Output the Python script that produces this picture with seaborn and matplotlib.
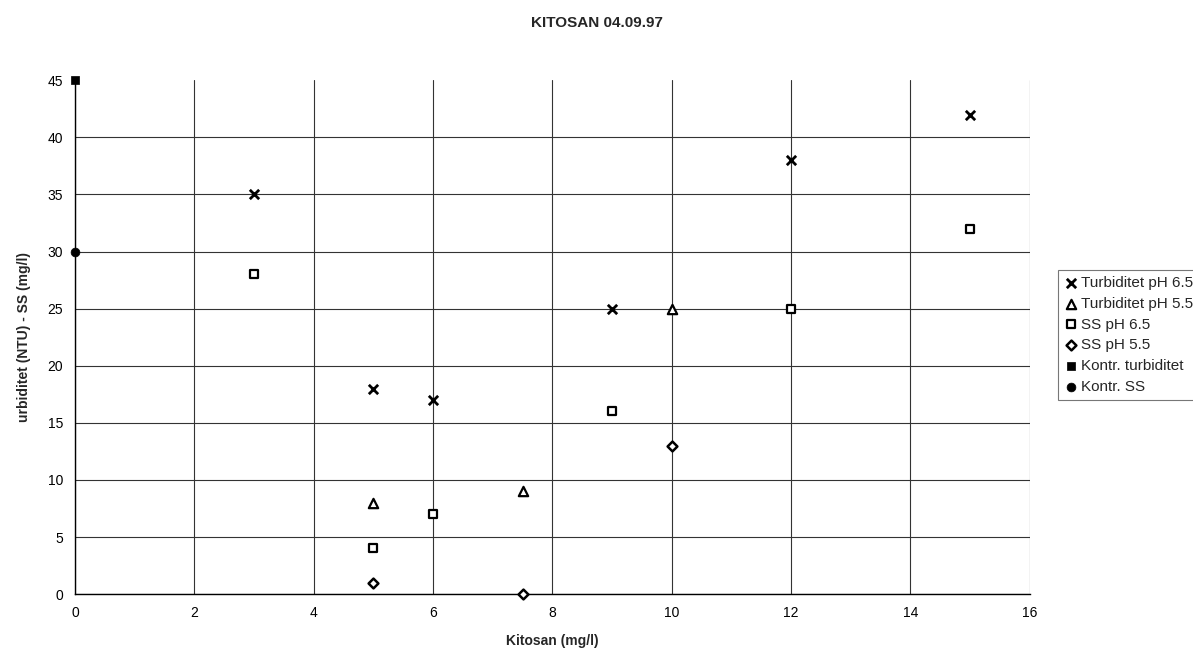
import pandas as pd
import matplotlib
matplotlib.use('Agg')
import matplotlib.pyplot as plt
import seaborn as sns

sns.set_style('white')
plt.rcParams['font.family'] = ['Liberation Sans', 'DejaVu Sans']

# data
turb65_x = [3, 5, 6, 9, 12, 15]
turb65_y = [35, 18, 17, 25, 38, 42]
turb55_x = [5, 7.5, 10]
turb55_y = [8, 9, 25]
ss65_x = [3, 5, 6, 9, 12, 15]
ss65_y = [28, 4, 7, 16, 25, 32]
ss55_x = [5, 7.5, 10]
ss55_y = [1, 0, 13]
kontr_turb_x = [0]
kontr_turb_y = [45]
kontr_ss_x = [0]
kontr_ss_y = [30]

series = [
    ('Turbiditet pH 6.5', turb65_x, turb65_y, dict(marker='x', s=45, color='black', linewidth=2)),
    ('Turbiditet pH 5.5', turb55_x, turb55_y, dict(marker='^', s=45, facecolor='white', edgecolor='black', linewidth=1.6)),
    ('SS pH 6.5', ss65_x, ss65_y, dict(marker='s', s=40, facecolor='white', edgecolor='black', linewidth=1.6)),
    ('SS pH 5.5', ss55_x, ss55_y, dict(marker='D', s=25, facecolor='white', edgecolor='black', linewidth=1.8)),
    ('Kontr. turbiditet', kontr_turb_x, kontr_turb_y, dict(marker='s', s=40, color='black', edgecolor='black')),
    ('Kontr. SS', kontr_ss_x, kontr_ss_y, dict(marker='o', s=40, color='black', edgecolor='black')),
]

fig = plt.figure(figsize=(11.93, 6.58), dpi=100)
ax = fig.add_axes([0.063, 0.097, 0.80, 0.781])

for name, xs, ys, kw in series:
    df = pd.DataFrame({'x': xs, 'y': ys})
    sns.scatterplot(data=df, x='x', y='y', ax=ax, label=name, clip_on=False, zorder=3, **kw)

ax.set_xlim(0, 16)
ax.set_ylim(0, 45)
ax.set_xticks(range(0, 17, 2))
ax.set_yticks(range(0, 46, 5))
ax.grid(True, color='#333333', linewidth=0.8)
# no horizontal gridline on the top value
ax.yaxis.get_gridlines()[-1].set_visible(False)
for s in ['top', 'right']:
    ax.spines[s].set_visible(False)
for s in ['left', 'bottom']:
    ax.spines[s].set_color('black')
    ax.spines[s].set_linewidth(1)
ax.tick_params(axis='both', direction='out', length=5, width=1, labelsize=10, colors='black')

ax.set_xlabel('Kitosan (mg/l)', fontsize=10, fontweight='bold', labelpad=10)
ax.set_ylabel('urbiditet (NTU) - SS (mg/l)', fontsize=10, fontweight='bold', labelpad=12)
fig.suptitle('KITOSAN 04.09.97', fontsize=11, fontweight='bold', y=0.975)

leg = ax.legend(loc='upper left', bbox_to_anchor=(1050 / 1193, 1 - 262 / 658),
                bbox_transform=fig.transFigure, frameon=True, fancybox=False,
                edgecolor='#555555', fontsize=11, handletextpad=0.1,
                borderpad=0.4, labelspacing=0.45, handlelength=1.0)
leg.get_frame().set_linewidth(0.8)

fig.savefig('out.png', dpi=100)
